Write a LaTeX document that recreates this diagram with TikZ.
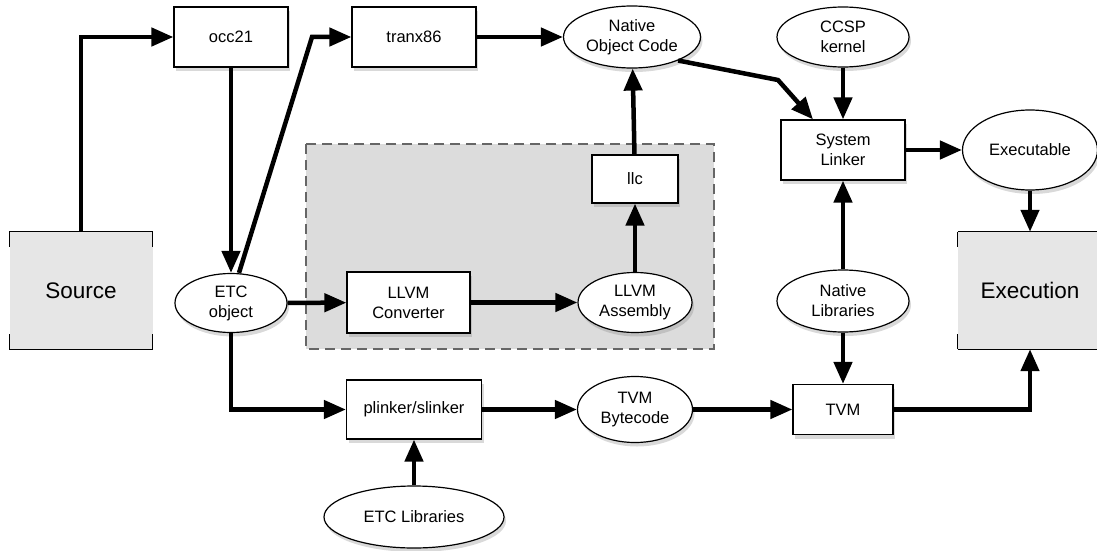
\documentclass[tikz,border=0pt]{standalone}
\usepackage{fontspec}
\setmainfont{Liberation Sans}
\usepackage{tikz}
\usetikzlibrary{positioning}
\usetikzlibrary{arrows.meta}
\usetikzlibrary{shapes.geometric}
\usetikzlibrary{shadows}

\definecolor{stagegray}{HTML}{E6E6E6}
\definecolor{llvmgray}{HTML}{DCDCDC}
\definecolor{dashgray}{HTML}{666666}

\begin{document}
\begin{tikzpicture}[x=1pt, y=-1pt,
    toolbox/.style={rectangle, draw, fill=white, line width=1.2pt, inner sep=0pt, align=center,
        font=\fontsize{16.5}{20}\selectfont, drop shadow={opacity=0.3, shadow xshift=2pt, shadow yshift=-4pt}},
    datafile/.style={ellipse, draw, fill=white, line width=1.2pt, inner sep=0pt, align=center,
        font=\fontsize{16.5}{20}\selectfont, drop shadow={opacity=0.3, shadow xshift=2pt, shadow yshift=-4pt}},
    stagebox/.style={rectangle, fill=stagegray, inner sep=0pt, minimum height=117pt, font=\fontsize{22.5}{27}\selectfont},
    flow/.style={-{Triangle[length=22pt, width=18pt]}, line width=4.5pt}
]
\useasboundingbox (0,0) rectangle (1097,551);

% LLVM part (dashed background)
\draw[dash pattern=on 10pt off 6pt, line width=2.2pt, draw=dashgray, fill=llvmgray] (306,144) rectangle (714,349);

% Start and end
\node[stagebox, minimum width=143pt] (source) at (81,290.5) {Source};
\node[stagebox, minimum width=144pt] (execution) at (1030,290.5) {Execution};
\foreach \b in {source, execution} {
   \draw[line width=1.2pt] (\b.north west) -- (\b.north east);
   \draw[line width=1.2pt] (\b.south west) -- (\b.south east);
   \draw[line width=1.2pt] (\b.north west) -- ++(0,15);
   \draw[line width=1.2pt] (\b.north east) -- ++(0,15);
   \draw[line width=1.2pt] (\b.south west) -- ++(0,-15);
   \draw[line width=1.2pt] (\b.south east) -- ++(0,-15);
}

% Tools and files
\node[toolbox, minimum width=114pt, minimum height=60pt] (occ21) at (231,37) {occ21};
\node[toolbox, minimum width=124pt, minimum height=60pt] (tranx86) at (414,37) {tranx86};
\node[datafile, minimum width=137pt, minimum height=62pt] (noc) at (632,37) {Native\\Object Code};
\node[datafile, minimum width=132pt, minimum height=60pt] (ccsp) at (843,37) {CCSP\\kernel};
\node[toolbox, minimum width=124pt, minimum height=60pt] (syslink) at (843,150) {System\\Linker};
\node[datafile, minimum width=135pt, minimum height=80pt] (exe) at (1030,150) {Executable};
\node[toolbox, minimum width=86pt, minimum height=48pt] (llc) at (635,179) {llc};
\node[datafile, minimum width=112pt, minimum height=59pt] (etc) at (231,303) {ETC\\object};
\node[toolbox, minimum width=123pt, minimum height=61pt] (llvmconv) at (408.5,302.5) {LLVM\\Converter};
\node[datafile, minimum width=114pt, minimum height=60pt] (llvmasm) at (635,302.5) {LLVM\\Assembly};
\node[datafile, minimum width=132pt, minimum height=62pt] (natlib) at (843,301) {Native\\Libraries};
\node[toolbox, minimum width=135pt, minimum height=59pt] (plinker) at (414,409.5) {plinker/slinker};
\node[datafile, minimum width=115pt, minimum height=66pt] (tvmbc) at (635,409.5) {TVM\\Bytecode};
\node[toolbox, minimum width=100pt, minimum height=50pt] (tvm) at (843,409.5) {TVM};
\node[datafile, minimum width=180pt, minimum height=62pt] (etclib) at (414,517) {ETC Libraries};

% Bends
\coordinate (tranxbend) at (312,37);
\coordinate (linkbend) at (778,80);

% Connections
\draw[flow] (source.north) |- (occ21.west);
\draw[flow] (occ21) -- (etc);
\draw[flow] ([xshift=8pt]etc.north) -- (tranxbend) -- (tranx86.west);
\draw[flow] (tranx86) -- (noc);
\draw[flow] (noc.-27) -- (linkbend) -- ([xshift=-30pt]syslink.north);
\draw[flow] (ccsp) -- (syslink);
\draw[flow] (syslink) -- (exe);
\draw[flow] (exe) -- (execution);
\draw[flow] (natlib) -- (syslink);
\draw[flow] (natlib) -- (tvm);
\draw[flow] (etc) -- (llvmconv);
\draw[flow] (llvmconv) -- (llvmasm);
\draw[flow] (llvmasm) -- (llc);
\draw[flow] (llc) -- (noc);
\draw[flow] (etc.south) |- (plinker.west);
\draw[flow] (etclib) -- (plinker);
\draw[flow] (plinker) -- (tvmbc);
\draw[flow] (tvmbc) -- (tvm);
\draw[flow] (tvm.east) -| (execution.south);

\end{tikzpicture}
\end{document}
